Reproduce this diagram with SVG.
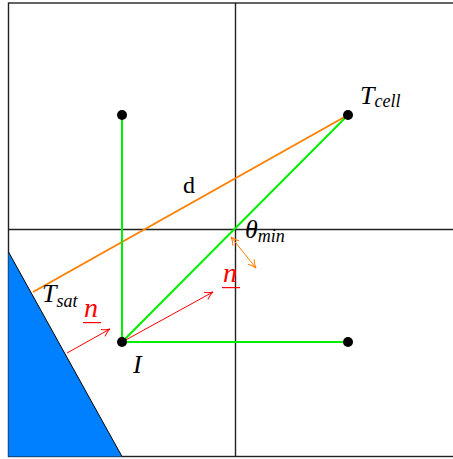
<svg xmlns="http://www.w3.org/2000/svg" width="453" height="459" viewBox="0 0 453 459">
<style>
.grid{stroke:#222;stroke-width:1.4;fill:none}
.green{stroke:#00ee00;stroke-width:2;fill:none}
.orange{stroke:#ff8000;stroke-width:2;fill:none}
.red{stroke:#ff0000;stroke-width:1;fill:none}
.thin-orange{stroke:#ff8000;stroke-width:1;fill:none}
.dot{fill:#000}
text{font-family:"Liberation Serif","DejaVu Serif",serif;font-style:italic;font-size:26px;fill:#000}
.sub{font-size:18px}
.rn{fill:#ff0000;font-size:28px}
.ul{fill:#ff0000}
</style>
<defs>
<marker id="ar" viewBox="0 0 10 10" refX="9" refY="5" markerWidth="10" markerHeight="10" orient="auto" markerUnits="userSpaceOnUse">
<path d="M1,1 Q5,4 9,5 Q5,6 1,9" fill="none" stroke="#ff0000" stroke-width="1"/>
</marker>
<marker id="ao" viewBox="0 0 10 10" refX="9" refY="5" markerWidth="10" markerHeight="10" orient="auto-start-reverse" markerUnits="userSpaceOnUse">
<path d="M1,1 Q5,4 9,5 Q5,6 1,9" fill="none" stroke="#ff8000" stroke-width="1"/>
</marker>
</defs>
<g id="background">
<rect x="8.5" y="3" width="454" height="453.5" class="grid"/>
<line x1="235.5" y1="3" x2="235.5" y2="456.5" class="grid"/>
<line x1="8.5" y1="229.5" x2="462.5" y2="229.5" class="grid"/>
<polygon points="8.5,252 122,456.5 8.5,456.5" fill="#0080ff"/>
<line x1="8.5" y1="252" x2="122" y2="456.5" stroke="#000" stroke-width="1"/>
</g>
<g id="connectors">
<line x1="33" y1="292" x2="348" y2="115" class="orange"/>
<line x1="122" y1="115" x2="122" y2="342" class="green"/>
<line x1="122" y1="342" x2="348" y2="342" class="green"/>
<line x1="122" y1="342" x2="348" y2="115" class="green"/>
<line x1="67" y1="353" x2="110" y2="329" class="red" marker-end="url(#ar)"/>
<line x1="122" y1="342" x2="213" y2="292" class="red" marker-end="url(#ar)"/>
<line x1="231" y1="237" x2="256" y2="268" class="thin-orange" marker-start="url(#ao)" marker-end="url(#ao)"/>
</g>
<g id="node-tl"><circle cx="122" cy="115" r="5" class="dot"/></g>
<g id="node-tcell"><circle cx="348" cy="115" r="5" class="dot"/><text x="360" y="104">T<tspan class="sub" dy="3">cell</tspan></text></g>
<g id="node-I"><circle cx="122" cy="342" r="5" class="dot"/><text x="133" y="373">I</text></g>
<g id="node-br"><circle cx="348" cy="342" r="5" class="dot"/></g>
<g id="labels">
<text x="183" y="193" style="font-style:normal;font-size:24px">d</text>
<text x="245" y="238">θ<tspan class="sub" dy="4">min</tspan></text>
<text x="223" y="282" class="rn">n</text>
<rect x="222" y="287" width="18" height="1.2" class="ul"/>
<text x="84" y="317" class="rn">n</text>
<rect x="83" y="322" width="18" height="1.2" class="ul"/>
<text x="42" y="302">T<tspan class="sub" dy="5">sat</tspan></text>
</g>
</svg>
